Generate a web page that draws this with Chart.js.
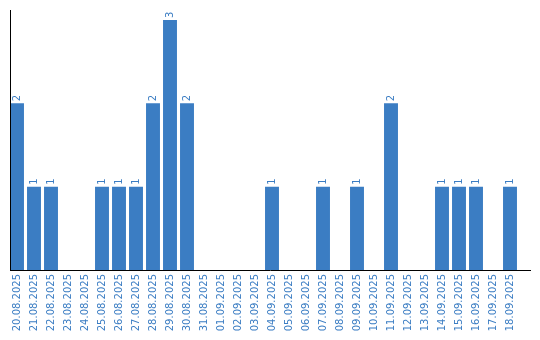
<!DOCTYPE html>
<html>
<head>
<meta charset="utf-8">
<script src="https://cdn.jsdelivr.net/npm/chart.js@4/dist/chart.umd.min.js"></script>
<style>
  body { margin: 0; background: #fff; }
  canvas { display: block; }
</style>
</head>
<body>
<canvas id="dailyChart" width="540" height="340"></canvas>
<script>
let days = ['20.08.2025','21.08.2025','22.08.2025','23.08.2025','24.08.2025','25.08.2025',
    '26.08.2025','27.08.2025','28.08.2025','29.08.2025','30.08.2025','31.08.2025',
    '01.09.2025','02.09.2025','03.09.2025','04.09.2025','05.09.2025','06.09.2025',
    '07.09.2025','08.09.2025','09.09.2025','10.09.2025','11.09.2025','12.09.2025',
    '13.09.2025','14.09.2025','15.09.2025','16.09.2025','17.09.2025','18.09.2025'];
let counts = [2,1,1,0,0,1,1,1,2,3,2,0,0,0,0,1,0,0,1,0,1,0,2,0,0,1,1,1,0,1];
let yMax = 3.12;

let blue = '#3b7dc3';

// value labels on top of each bar, turned like the date labels
let valueLabels = {
    id: 'valueLabels',
    afterDatasetsDraw(chart) {
        let ctx = chart.ctx;
        let meta = chart.getDatasetMeta(0);
        ctx.save();
        ctx.fillStyle = blue;
        ctx.font = '10px "DejaVu Sans"';
        ctx.textAlign = 'left';
        ctx.textBaseline = 'middle';
        meta.data.forEach(function (bar, i) {
            if (!counts[i]) return;
            ctx.save();
            ctx.translate(bar.x, bar.y - 2);
            ctx.rotate(-Math.PI / 2);
            ctx.fillText(String(counts[i]), 0, 0);
            ctx.restore();
        });
        ctx.restore();
    }
};

// both axis lines, the x one running a bit past the last bar
let axisLines = {
    id: 'axisLines',
    afterDraw(chart) {
        let a = chart.chartArea;
        let ctx = chart.ctx;
        ctx.save();
        ctx.strokeStyle = '#000';
        ctx.lineWidth = 1;
        ctx.beginPath();
        ctx.moveTo(10.5, a.top);
        ctx.lineTo(10.5, a.bottom + 1);
        ctx.moveTo(10, a.bottom + 0.5);
        ctx.lineTo(531, a.bottom + 0.5);
        ctx.stroke();
        ctx.restore();
    }
};

let barCtx = document.getElementById('dailyChart').getContext('2d');
let barGraph = new Chart(barCtx, {
    type: 'bar',
    data: {
        labels: days,
        datasets: [
            {
                label: 'count',
                backgroundColor: blue,
                borderWidth: 0,
                barPercentage: 0.82,
                categoryPercentage: 1,
                data: counts
            }
        ]
    },
    options: {
        responsive: false,
        animation: false,
        layout: { padding: { left: 8.5, top: 10, right: 21.5, bottom: 0 } },
        plugins: {
            legend: { display: false },
            tooltip: { enabled: false }
        },
        scales: {
            x: {
                grid: { display: false, drawTicks: false },
                border: { display: false },
                ticks: {
                    autoSkip: false,
                    minRotation: 90,
                    maxRotation: 90,
                    padding: 4,
                    color: blue,
                    font: { family: 'DejaVu Sans', size: 10 }
                },
                afterFit(scale) { scale.height = 70; }
            },
            y: {
                min: 0,
                max: yMax,
                grid: { display: false, drawTicks: false },
                border: { display: false },
                ticks: { display: false },
                afterFit(scale) { scale.width = 0; }
            }
        }
    },
    plugins: [valueLabels, axisLines]
});
</script>
</body>
</html>
